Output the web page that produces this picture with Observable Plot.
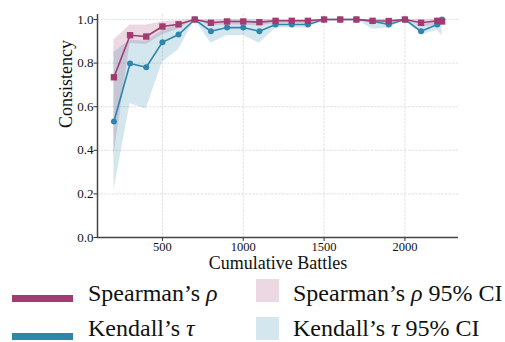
<!DOCTYPE html>
<html>
<head>
<meta charset="utf-8">
<script src="https://cdn.jsdelivr.net/npm/d3@7"></script>
<script src="https://cdn.jsdelivr.net/npm/@observablehq/plot@0.6"></script>
<style>
  html, body { margin: 0; padding: 0; background: #fff; overflow: hidden; }
  #wrap { width: 505px; height: 342px; position: relative; font-family: "Liberation Serif", "DejaVu Serif", serif; }
  #chart svg, #chart svg text { font-family: "Liberation Serif", serif !important; }
  #legend { position: absolute; left: 0; top: 275px; width: 505px; height: 67px; font-size: 24px; line-height: 24px; color: #111; }
  .ln { position: absolute; left: 12px; width: 61px; height: 6.5px; }
  .sq { position: absolute; left: 256px; width: 23px; height: 23px; }
  .tx { position: absolute; white-space: nowrap; }
</style>
</head>
<body>
<div id="wrap">
  <div id="chart"></div>
  <div id="legend">
    <div class="ln" style="top:20px;background:#a23b72"></div>
    <div class="tx" style="left:88px;top:6px">Spearman’s <i>ρ</i></div>
    <div class="sq" style="top:4px;background:rgba(162,59,114,0.2)"></div>
    <div class="tx" style="left:293px;top:6px">Spearman’s <i>ρ</i> 95% CI</div>
    <div class="ln" style="top:58px;background:#2e86ab"></div>
    <div class="tx" style="left:88px;top:41px">Kendall’s <i>τ</i></div>
    <div class="sq" style="top:42px;background:rgba(46,134,171,0.2)"></div>
    <div class="tx" style="left:293px;top:41px">Kendall’s <i>τ</i> 95% CI</div>
  </div>
</div>
<script>
const battles = [200, 300, 400, 500, 600, 700, 800, 900, 1000, 1100, 1200, 1300, 1400, 1500, 1600, 1700, 1800, 1900, 2000, 2100, 2200, 2230];
const spearman   = [0.735, 0.928, 0.922, 0.968, 0.978, 1.0, 0.985, 0.991, 0.991, 0.988, 0.994, 0.994, 0.994, 1.0, 1.0, 1.0, 0.994, 0.993, 1.0, 0.985, 0.994, 0.991];
const spearmanLo = [0.375, 0.89, 0.885, 0.93, 0.955, 1.0, 0.97, 0.975, 0.975, 0.97, 0.98, 0.98, 0.98, 1.0, 1.0, 1.0, 0.98, 0.98, 1.0, 0.965, 0.975, 0.975];
const spearmanHi = [0.905, 0.975, 0.975, 0.99, 0.995, 1.0, 0.998, 1.0, 1.0, 1.0, 1.0, 1.0, 1.0, 1.0, 1.0, 1.0, 1.0, 1.0, 1.0, 0.998, 1.0, 1.0];
const kendall    = [0.532, 0.798, 0.781, 0.896, 0.931, 1.0, 0.946, 0.963, 0.963, 0.946, 0.977, 0.977, 0.977, 1.0, 1.0, 1.0, 0.992, 0.977, 1.0, 0.946, 0.977, 1.0];
const kendallLo  = [0.216, 0.613, 0.589, 0.804, 0.861, 1.0, 0.891, 0.927, 0.927, 0.891, 0.96, 0.962, 0.96, 1.0, 1.0, 1.0, 0.955, 0.96, 1.0, 0.93, 0.95, 0.925];
const kendallHi  = [0.85, 0.905, 0.9, 0.95, 0.98, 1.0, 0.99, 0.995, 0.995, 0.99, 0.995, 0.995, 0.995, 1.0, 1.0, 1.0, 1.0, 0.995, 1.0, 0.97, 0.995, 1.0];
const xTicks = [500, 1000, 1500, 2000];
const yTicks = [0, 0.2, 0.4, 0.6, 0.8, 1.0];

const pink = "#a23b72", blue = "#2e86ab";
const serif = "Liberation Serif, serif";
const rows = battles.map((b, i) => ({
  b, s: spearman[i], sLo: spearmanLo[i], sHi: spearmanHi[i],
  k: kendall[i], kLo: kendallLo[i], kHi: kendallHi[i]
}));

const chart = Plot.plot({
  width: 505,
  height: 275,
  marginLeft: 97,
  marginRight: 47,
  marginTop: 14,
  marginBottom: 38,
  style: { fontFamily: serif, background: "white", color: "#222" },
  x: { domain: [98.5, 2331.5], axis: null },
  y: { domain: [0, 1.023], axis: null },
  marks: [
    Plot.gridX(xTicks, { stroke: "#d8d8d8", strokeOpacity: 1, strokeWidth: 0.8, strokeDasharray: "2.5,1.2" }),
    Plot.gridY(yTicks.slice(1), { stroke: "#d8d8d8", strokeOpacity: 1, strokeWidth: 0.8, strokeDasharray: "2.5,1.2" }),
    Plot.areaY(rows, { x: "b", y1: "sLo", y2: "sHi", fill: pink, fillOpacity: 0.2 }),
    Plot.areaY(rows, { x: "b", y1: "kLo", y2: "kHi", fill: blue, fillOpacity: 0.2 }),
    Plot.lineY(rows, { x: "b", y: "k", stroke: blue, strokeWidth: 1.6 }),
    Plot.dot(rows, { x: "b", y: "k", fill: blue, r: 3, symbol: "circle" }),
    Plot.lineY(rows, { x: "b", y: "s", stroke: pink, strokeWidth: 1.6 }),
    Plot.dot(rows, { x: "b", y: "s", fill: pink, r: 3.6, symbol: "square" }),
    Plot.axisX(xTicks, { tickSize: 4, label: null, stroke: "#333", tickFormat: () => "" }),
    Plot.axisY(yTicks, { tickSize: 3.5, label: null, stroke: "#333", tickFormat: () => "" }),
    Plot.text(xTicks, { x: d => d, frameAnchor: "bottom", lineAnchor: "middle", dy: 9.5, fontSize: 12.5, fill: "#111", text: d => String(d) }),
    Plot.text(yTicks, { y: d => d, frameAnchor: "left", textAnchor: "end", lineAnchor: "middle", dx: -4, fontSize: 13, fill: "#111", text: d => d.toFixed(1) }),
    Plot.ruleY([0], { stroke: "#444", strokeWidth: 1.5 }),
    Plot.ruleX([98.5], { stroke: "#444", strokeWidth: 1.5 }),
    Plot.text(["Cumulative Battles"], { frameAnchor: "bottom", lineAnchor: "middle", dy: 25.5, fontSize: 18, fill: "#111" }),
    Plot.text(["Consistency"], { frameAnchor: "left", lineAnchor: "middle", dx: -31, dy: 2, rotate: -90, fontSize: 18, fill: "#111" })
  ]
});
document.getElementById("chart").appendChild(chart);
</script>
</body>
</html>
